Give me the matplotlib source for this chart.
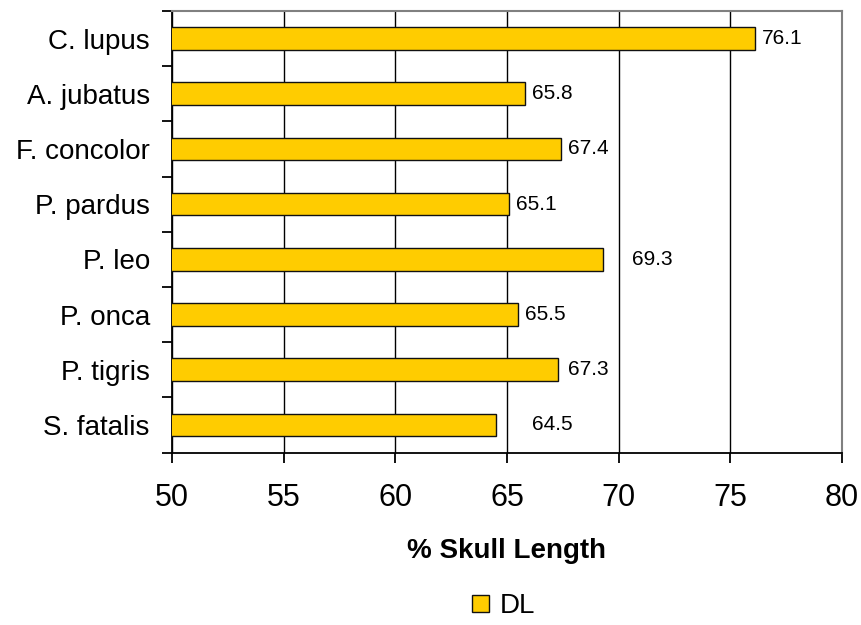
import numpy as np
import matplotlib.pyplot as plt

# Species and DL values (% skull length)
species = ['C. lupus', 'A. jubatus', 'F. concolor', 'P. pardus',
           'P. leo', 'P. onca', 'P. tigris', 'S. fatalis']
dl_values = [76.1, 65.8, 67.4, 65.1, 69.3, 65.5, 67.3, 64.5]

# extra label shift (points) for a few labels, as in the original
label_shift = [0, 0, 0, 0, 16, 0, 2, 21]

plt.rcParams['font.family'] = ['Liberation Sans', 'DejaVu Sans']

fig = plt.figure(figsize=(8.62, 6.25), dpi=100)
ax = fig.add_axes([172 / 862, 1 - 452.5 / 625, 670 / 862, 441.5 / 625])

y = np.arange(len(species))[::-1]
bars = ax.barh(y, dl_values, height=0.41, left=0, color='#FFCC00',
               edgecolor='#111111', linewidth=1.0, label='DL', zorder=3)

for yy, v, s in zip(y, dl_values, label_shift):
    ax.annotate(f'{v:.1f}', (v, yy), xytext=(5 + s, 0), textcoords='offset points',
                va='center', ha='left', fontsize=15)

ax.set_xlim(50, 80)
ax.set_ylim(-0.5, len(species) - 0.5)
ax.set_xticks(np.arange(50, 81, 5))
ax.tick_params(axis='x', labelsize=22, length=7, width=1.3, direction='out', pad=15)
ax.set_yticks(y)
ax.set_yticklabels(species, fontsize=20)
ax.tick_params(axis='y', length=0, pad=16)
ax.set_yticks(np.arange(-0.5, len(species), 1), minor=True)
ax.tick_params(axis='y', which='minor', length=7, width=1.3, direction='out')

ax.grid(axis='x', color='black', linewidth=1.0, zorder=0)
for side in ['top', 'right']:
    ax.spines[side].set_color('#808080')
    ax.spines[side].set_linewidth(1.5)
ax.spines['left'].set_linewidth(1.3)
ax.spines['bottom'].set_linewidth(1.3)

ax.set_xlabel('% Skull Length', fontsize=20, fontweight='bold', labelpad=18)

fig.legend(handles=[bars], labels=['DL'], loc='lower center', bbox_to_anchor=(504 / 862, 0.0),
           borderaxespad=0.1, borderpad=0.1,
           frameon=False, fontsize=20, handlelength=0.6, handleheight=0.6, handletextpad=0.4)

plt.savefig('out.png', dpi=100)
